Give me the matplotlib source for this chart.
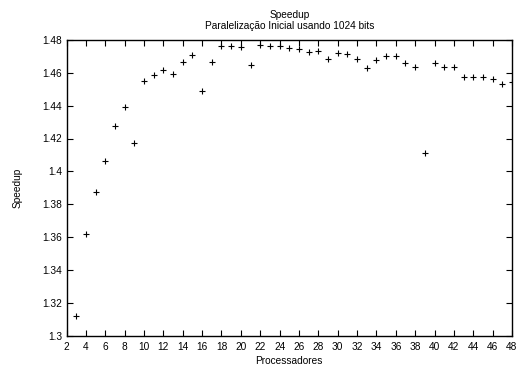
import numpy as np
import matplotlib
matplotlib.use("Agg")
import matplotlib.pyplot as plt

plt.rcParams['font.family'] = ['Liberation Sans', 'DejaVu Sans']

procs = list(range(3, 49))
speedup = [1.3117, 1.3616, 1.3877, 1.4061, 1.4277, 1.4394, 1.4174, 1.4549,
           1.4584, 1.4620, 1.4592, 1.4665, 1.4707, 1.4491, 1.4668, 1.4765,
           1.4765, 1.4758, 1.4650, 1.4772, 1.4765, 1.4765, 1.4750, 1.4744,
           1.4729, 1.4735, 1.4683, 1.4721, 1.4713, 1.4683, 1.4627, 1.4679,
           1.4701, 1.4701, 1.4657, 1.4635, 1.4113, 1.4657, 1.4635, 1.4635,
           1.4576, 1.4576, 1.4576, 1.4562, 1.4533, 1.4547]
xticks = np.arange(2, 49, 2)
yticks = [1.3, 1.32, 1.34, 1.36, 1.38, 1.4, 1.42, 1.44, 1.46, 1.48]
yticklabels = ["1.3", "1.32", "1.34", "1.36", "1.38", "1.4", "1.42", "1.44", "1.46", "1.48"]

fs = 7.3
fig = plt.figure(figsize=(5.25, 3.72), dpi=100)
ax = fig.add_axes([66.5/525, 1-335.5/372, (512-66.5)/525, (335.5-40)/372])
ax.plot(procs, speedup, linestyle='none', marker='+', color='black',
        markersize=5, markeredgewidth=0.8)
ax.set_xlim(2, 48)
ax.set_ylim(1.3, 1.48)
ax.set_xticks(xticks)
ax.set_yticks(yticks)
ax.set_yticklabels(yticklabels)
ax.tick_params(direction='in', top=True, right=True, length=4, width=0.8,
               labelsize=fs)
ax.tick_params(axis='x', pad=4.5)
ax.tick_params(axis='y', pad=3)
for s in ax.spines.values():
    s.set_linewidth(1.0)
ax.set_xlabel("Processadores", fontsize=fs)
ax.xaxis.set_label_coords(0.5, -0.07)
ax.set_ylabel("Speedup", fontsize=fs)
ax.yaxis.set_label_coords(-0.098, 0.5)
ax.set_title("Speedup\nParalelização Inicial usando 1024 bits", fontsize=fs,
             linespacing=1.1, pad=8)
fig.savefig("out.png", dpi=100)
plt.close(fig)
